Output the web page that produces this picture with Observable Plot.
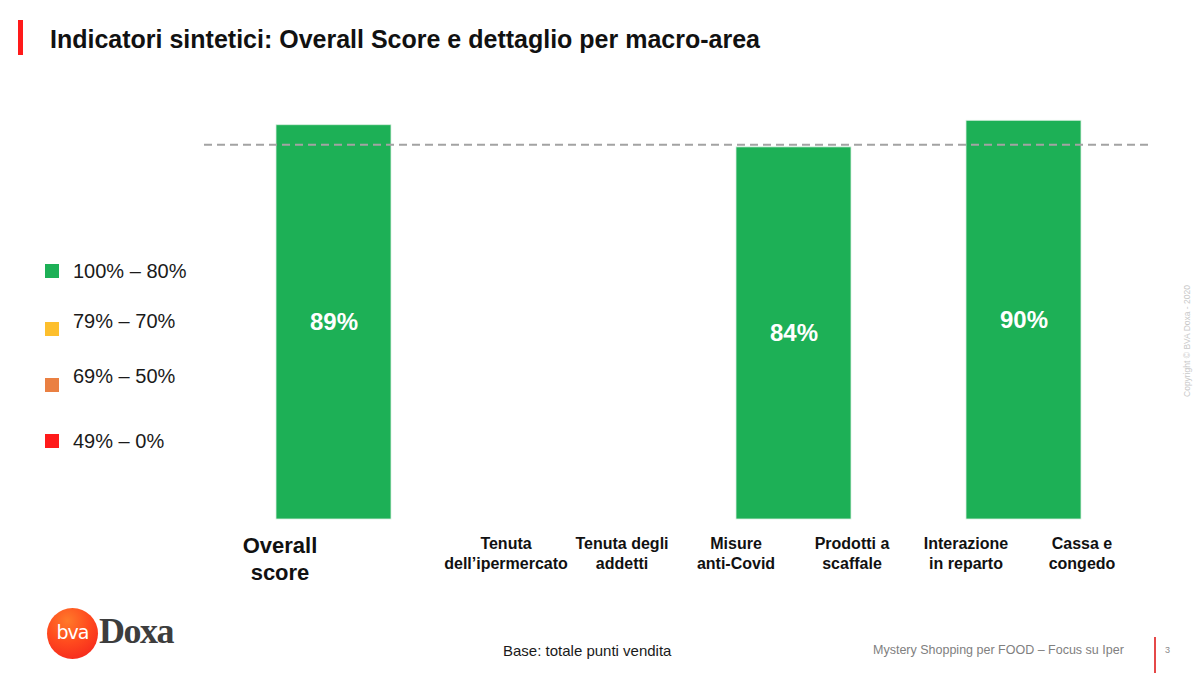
<!DOCTYPE html>
<html>
<head>
<meta charset="utf-8">
<script src="https://cdn.jsdelivr.net/npm/d3@7"></script>
<script src="https://cdn.jsdelivr.net/npm/@observablehq/plot@0.6"></script>
<style>
  html, body { margin: 0; padding: 0; background: #fff; }
  #page { position: relative; width: 1200px; height: 675px; overflow: hidden; font-family: "Liberation Sans", Arial, sans-serif; }
  #chart { position: absolute; left: 0; top: 0; }
  .abs { position: absolute; white-space: nowrap; line-height: normal; }
  #titlebar { position: absolute; left: 18px; top: 20px; width: 5px; height: 35px; background: #ff1a1a; }
  #title { left: 50px; top: 25px; font-size: 25px; font-weight: bold; color: #111; }
  .sw { position: absolute; width: 14px; height: 14px; left: 45px; }
  .lt { position: absolute; left: 73px; font-size: 20px; color: #1a1a1a; white-space: nowrap; line-height: normal; }
  #copyright { left: 1187px; top: 341px; font-size: 8.5px; color: #c8c8c8; transform: translate(-50%, -50%) rotate(-90deg); }
  #base { left: 503px; top: 641.5px; font-size: 15px; color: #1a1a1a; }
  #footer { left: 873px; top: 642.7px; font-size: 12.5px; color: #808080; }
  #pline { position: absolute; left: 1154px; top: 637px; width: 1.5px; height: 36px; background: #e54848; }
  #pnum { left: 1165px; top: 645px; font-size: 9px; color: #8a8a8a; }
  #logoCircle { position: absolute; left: 47px; top: 608px; width: 51px; height: 51px; border-radius: 50%;
    background: radial-gradient(circle at 40% 25%, #ff7a2a 0%, #ff4a1e 45%, #f21c1c 100%); }
  #logoBva { position: absolute; left: 47px; top: 622px; width: 51px; text-align: center; font-size: 19px; color: #fff; font-family: "DejaVu Sans", sans-serif; letter-spacing: -1px; line-height: 20px; }
  #logoDoxa { left: 99px; top: 610px; font-size: 36px; font-weight: bold; color: #3d3d3d; font-family: "Liberation Serif", "DejaVu Serif", serif; letter-spacing: -1.5px; }
</style>
</head>
<body>
<div id="page">
  <div id="chart"></div>
  <div id="titlebar"></div>
  <div id="title" class="abs">Indicatori sintetici: Overall Score e dettaglio per macro-area</div>
  <div id="legend"></div>
  <div id="copyright" class="abs">Copyright © BVA Doxa - 2020</div>
  <div id="logoCircle"></div>
  <div id="logoBva">bva</div>
  <div id="logoDoxa" class="abs">Doxa</div>
  <div id="base" class="abs">Base: totale punti vendita</div>
  <div id="footer" class="abs">Mystery Shopping per FOOD – Focus su Iper</div>
  <div id="pline"></div>
  <div id="pnum" class="abs">3</div>
</div>
<script>
// ---- data ----
const groups = ["Overall", "Tenuta", "Misure / Prodotti", "Interazione / Cassa"];
const scores = [89, null, 84, 90];
const leftLabels = ["Overall\nscore", "Tenuta\ndell’ipermercato", "Misure\nanti-Covid", "Interazione\nin reparto"];
const rightLabels = [null, "Tenuta degli\naddetti", "Prodotti a\nscaffale", "Cassa e\ncongedo"];
const benchmark = 84.6;
const legendLabels = ["100% – 80%", "79% – 70%", "69% – 50%", "49% – 0%"];
const legendColors = ["#1db056", "#fdbf2d", "#ea8042", "#ff1a1a"];
const thresholds = [50, 70, 80];

// ---- layout (not data) ----
const legendTextTops = [259.5, 309.5, 364.5, 429.5];
const legendSwatchTops = [264, 322, 378, 434];

const bars = groups.map((g, i) => ({group: g, score: scores[i]})).filter(d => d.score != null);
const leftData = groups.map((g, i) => ({group: g, label: leftLabels[i]}));
const rightData = groups.map((g, i) => ({group: g, label: rightLabels[i]})).filter(d => d.label != null);

const font = "'Liberation Sans', Arial, sans-serif";

const chart = Plot.plot({
  width: 1200,
  height: 675,
  marginLeft: 204,
  marginRight: 48,
  marginTop: 76,
  marginBottom: 156,
  style: {background: "transparent", fontFamily: font},
  x: {domain: groups, paddingInner: 0.5, paddingOuter: 0.302, axis: null},
  y: {domain: [0, 100], axis: null},
  color: {type: "threshold", domain: thresholds, range: [...legendColors].reverse()},
  marks: [
    Plot.barY(bars, {x: "group", y: "score", fill: "score", stroke: "#d9efe0", strokeWidth: 0.8}),
    Plot.ruleY([benchmark], {stroke: "#a3a3a3", strokeWidth: 2, strokeDasharray: "8,5"}),
    Plot.text(bars, {x: "group", y: d => d.score / 2, text: d => d.score + "%", fill: "white",
      fontSize: 24, fontWeight: "bold"}),
    Plot.text(leftData.slice(0, 1), {x: "group", text: "label", frameAnchor: "bottom", lineAnchor: "top",
      dy: 15, dx: -54, fontSize: 22, fontWeight: "bold", fill: "#111", lineHeight: 1.2}),
    Plot.text(leftData.slice(1), {x: "group", text: "label", frameAnchor: "bottom", lineAnchor: "top",
      dy: 14.5, dx: -58, fontSize: 16, fontWeight: "bold", fill: "#111", lineHeight: 1.28}),
    Plot.text(rightData, {x: "group", text: "label", frameAnchor: "bottom", lineAnchor: "top",
      dy: 14.5, dx: 58, fontSize: 16, fontWeight: "bold", fill: "#111", lineHeight: 1.28})
  ]
});
document.getElementById("chart").appendChild(chart);

// legend
const legend = document.getElementById("legend");
legendLabels.forEach((lab, i) => {
  const sw = document.createElement("div");
  sw.className = "sw";
  sw.style.top = legendSwatchTops[i] + "px";
  sw.style.background = legendColors[i];
  legend.appendChild(sw);
  const t = document.createElement("div");
  t.className = "lt";
  t.style.top = legendTextTops[i] + "px";
  t.textContent = lab;
  legend.appendChild(t);
});
</script>
</body>
</html>
